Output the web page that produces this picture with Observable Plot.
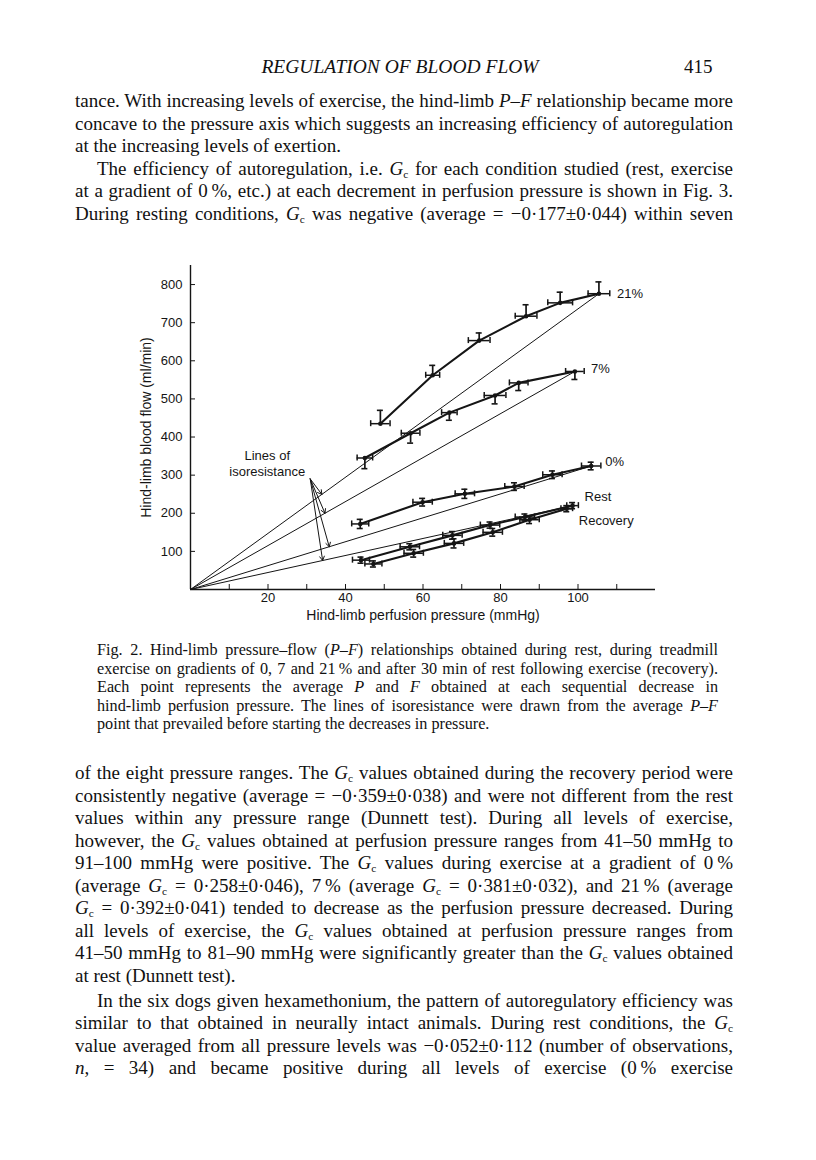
<!DOCTYPE html>
<html><head><meta charset="utf-8">
<script src="https://cdn.jsdelivr.net/npm/d3@7"></script>
<script src="https://cdn.jsdelivr.net/npm/@observablehq/plot@0.6"></script>
<style>
html,body{margin:0;padding:0;background:#fff;}
#page{position:relative;width:816px;height:1160px;overflow:hidden;background:#fff;color:#111;}
.ln{position:absolute;white-space:nowrap;font-family:"Liberation Serif","Times New Roman",serif;line-height:24px;}
.body{font-size:19px;}
.cap{font-size:16.2px;line-height:20px;}
.j{text-align:justify;text-align-last:justify;}
sub{font-size:0.6em;vertical-align:-0.3em;line-height:0;font-style:normal;}
#chart{position:absolute;left:0;top:250px;}
</style></head><body><div id="page"><div id="chart"></div></div>
<script>
// ---------- chart data ----------
const xTicks = [10, 20, 30, 40, 50, 60, 70, 80, 90, 100, 110];
const xTickLabels = [20, 40, 60, 80, 100];
const yTicks = [100, 200, 300, 400, 500, 600, 700, 800];

const seriesNames = ["21%", "7%", "0%", "Rest", "Recovery"];

const pressure21 = [49.0, 62.5, 74.5, 86.6, 95.4, 105.4];
const flow21     = [435, 562, 653, 717, 752, 776];
const pErr21     = [2.5, 1.8, 2.8, 2.8, 3.2, 2.8];
const fErr21     = [35, 26, 20, 30, 28, 31];

const pressure7 = [45.0, 56.8, 66.8, 78.6, 84.7, 99.2];
const flow7     = [345, 410, 464, 509, 542, 572];
const pErr7     = [2.0, 2.4, 2.0, 2.8, 2.4, 2.4];
const fErr7     = [28, 26, 20, 22, 20, 21];

const pressure0 = [43.8, 59.9, 70.8, 83.6, 93.4, 103.4];
const flow0     = [172, 229, 251, 270, 301, 324];
const pErr0     = [2.2, 2.5, 2.5, 2.5, 2.5, 2.5];
const fErr0     = [12, 10, 12, 10, 10, 10];

const pressureRest = [44.0, 56.6, 67.6, 77.3, 86.3, 98.6];
const flowRest     = [77, 112, 142, 169, 190, 220];
const pErrRest     = [2.2, 2.5, 2.5, 2.5, 2.5, 1.5];
const fErrRest     = [8, 8, 10, 8, 8, 8];

const pressureRecovery = [47.2, 57.6, 68.0, 78.0, 87.5, 97.1];
const flowRecovery     = [67, 95, 121, 150, 183, 212];
const pErrRecovery     = [2.2, 2.5, 2.5, 2.5, 2.5, 1.5];
const fErrRecovery     = [8, 10, 12, 10, 10, 8];

// which side of each point the flow error bar is drawn
const errSide = ["up", "down", "both", "both", "both"];

// isoresistance lines are drawn to the first (highest pressure) point of these series
const isoSeries = ["21%", "7%", "0%", "Rest"];

// annotation: "Lines of isoresistance"
const isoLabelText = "Lines of\nisoresistance";
const isoLabelAt = [19.8, 333];
const arrowStart = [30.9, 290];
const arrowTargetP = [33.9, 34.7, 35.8, 34.1];

const xLabel = "Hind-limb perfusion pressure (mmHg)";
const yLabel = "Hind-limb blood flow (ml/min)";

// ---------- build table ----------
const groups = [
  {name: seriesNames[0], P: pressure21, F: flow21, PE: pErr21, FE: fErr21, side: errSide[0], dx: 18, dy: 0},
  {name: seriesNames[1], P: pressure7, F: flow7, PE: pErr7, FE: fErr7, side: errSide[1], dx: 16, dy: -3},
  {name: seriesNames[2], P: pressure0, F: flow0, PE: pErr0, FE: fErr0, side: errSide[2], dx: 14, dy: -4},
  {name: seriesNames[3], P: pressureRest, F: flowRest, PE: pErrRest, FE: fErrRest, side: errSide[3], dx: 12, dy: -9},
  {name: seriesNames[4], P: pressureRecovery, F: flowRecovery, PE: pErrRecovery, FE: fErrRecovery, side: errSide[4], dx: 12, dy: 12}
];
const rows = groups.flatMap(g => g.P.map((p, i) => ({
  series: g.name, p, f: g.F[i], pe: g.PE[i], fe: g.FE[i],
  lo: g.side === "up" ? g.F[i] : g.F[i] - g.FE[i],
  hi: g.side === "down" ? g.F[i] : g.F[i] + g.FE[i]
})));
const lastOf = g => ({series: g.name, p: g.P[g.P.length - 1], f: g.F[g.F.length - 1]});
const isoRows = groups.filter(g => isoSeries.includes(g.name)).map(lastOf);
const arrowRows = isoRows.map((r, i) => ({
  x1: arrowStart[0], y1: arrowStart[1],
  x2: arrowTargetP[i], y2: arrowTargetP[i] * r.f / r.p
}));

const font = "'Liberation Sans', Arial, Helvetica, sans-serif";
const ink = "#151515";

const marks = [
  Plot.ruleX([0], {stroke: ink, strokeWidth: 1.4}),
  Plot.ruleY([0], {stroke: ink, strokeWidth: 1.4}),
  Plot.axisY(yTicks, {tickSize: -5, tickPadding: 13, fontSize: 13, label: null, stroke: ink, color: ink}),
  Plot.axisX(xTicks, {tickSize: -5, tickPadding: 8, fontSize: 13, label: null, stroke: ink, color: ink,
    tickFormat: d => xTickLabels.includes(d) ? String(d) : ""}),
  Plot.text([yLabel], {frameAnchor: "left", text: d => d, rotate: -90, textAnchor: "middle", dx: -44, fontSize: 14, fill: ink}),
  Plot.text([xLabel], {frameAnchor: "bottom", text: d => d, textAnchor: "middle", dx: 0, dy: 30, fontSize: 14, fill: ink}),
  Plot.link(isoRows, {x1: () => 0, y1: () => 0, x2: "p", y2: "f", stroke: ink, strokeWidth: 1}),
  Plot.line(rows, {x: "p", y: "f", z: "series", stroke: ink, strokeWidth: 2.1}),
  Plot.ruleX(rows, {x: "p", y1: "lo", y2: "hi", stroke: ink, strokeWidth: 1.7}),
  Plot.ruleY(rows.filter(r => r.hi > r.f), {y: "hi", x1: "p", x2: "p", insetLeft: -3, insetRight: -3, stroke: ink, strokeWidth: 1.6}),
  Plot.ruleY(rows.filter(r => r.lo < r.f), {y: "lo", x1: "p", x2: "p", insetLeft: -3, insetRight: -3, stroke: ink, strokeWidth: 1.6}),
  Plot.ruleY(rows, {y: "f", x1: d => d.p - d.pe, x2: d => d.p + d.pe, stroke: ink, strokeWidth: 1.5}),
  Plot.ruleX(rows, {x: d => d.p - d.pe, y1: "f", y2: "f", insetTop: -3, insetBottom: -3, stroke: ink, strokeWidth: 1.5}),
  Plot.ruleX(rows, {x: d => d.p + d.pe, y1: "f", y2: "f", insetTop: -3, insetBottom: -3, stroke: ink, strokeWidth: 1.5}),
  Plot.dot(rows, {x: "p", y: "f", r: 2.3, fill: ink, stroke: null}),
  ...groups.map(g => Plot.text([lastOf(g)], {x: "p", y: "f", text: "series", dx: g.dx, dy: g.dy, textAnchor: "start", fontSize: 13, fill: ink})),
  Plot.text([isoLabelText], {x: () => isoLabelAt[0], y: () => isoLabelAt[1], text: d => d, lineHeight: 1.3, textAnchor: "middle", fontSize: 13, fill: ink}),
  Plot.arrow(arrowRows, {x1: "x1", y1: "y1", x2: "x2", y2: "y2", stroke: ink, strokeWidth: 1, headLength: 7})
];

const chart = Plot.plot({
  width: 816, height: 380,
  marginLeft: 190, marginRight: 161, marginTop: 15, marginBottom: 41,
  x: {domain: [0, 120]},
  y: {domain: [0, 850]},
  style: {fontFamily: font, fontSize: "13px", background: "white", color: ink},
  marks
});
document.getElementById("chart").appendChild(chart);

// ---------- page text ----------
const G = '<i>G</i><sub>c</sub>';
const T = '\u2009';
const pageLines = [
  // [html, centerY, left, right, cls, justify]
  ['tance. With increasing levels of exercise, the hind-limb <i>P–F</i> relationship became more', 101, 75, 733, 'body', true],
  ['concave to the pressure axis which suggests an increasing efficiency of autoregulation', 123.5, 75, 733, 'body', true],
  ['at the increasing levels of exertion.', 146, 75, 733, 'body', false],
  ['The efficiency of autoregulation, i.e. ' + G + ' for each condition studied (rest, exercise', 168.5, 97, 733, 'body', true],
  ['at a gradient of 0' + T + '%, etc.) at each decrement in perfusion pressure is shown in Fig. 3.', 191, 75, 733, 'body', true],
  ['During resting conditions, ' + G + ' was negative (average = −0·177±0·044) within seven', 213.5, 75, 733, 'body', true],

  ['Fig. 2. Hind-limb pressure–flow (<i>P–F</i>) relationships obtained during rest, during treadmill', 650, 97, 718, 'cap', true],
  ['exercise on gradients of 0, 7 and 21' + T + '% and after 30 min of rest following exercise (recovery).', 668.5, 97, 718, 'cap', true],
  ['Each point represents the average <i>P</i> and <i>F</i> obtained at each sequential decrease in', 687, 97, 718, 'cap', true],
  ['hind-limb perfusion pressure. The lines of isoresistance were drawn from the average <i>P–F</i>', 705.5, 97, 718, 'cap', true],
  ['point that prevailed before starting the decreases in pressure.', 724, 97, 718, 'cap', false],

  ['of the eight pressure ranges. The ' + G + ' values obtained during the recovery period were', 773, 75, 733, 'body', true],
  ['consistently negative (average = −0·359±0·038) and were not different from the rest', 795.5, 75, 733, 'body', true],
  ['values within any pressure range (Dunnett test). During all levels of exercise,', 818, 75, 733, 'body', true],
  ['however, the ' + G + ' values obtained at perfusion pressure ranges from 41–50 mmHg to', 840.5, 75, 733, 'body', true],
  ['91–100 mmHg were positive. The ' + G + ' values during exercise at a gradient of 0' + T + '%', 863, 75, 733, 'body', true],
  ['(average ' + G + ' = 0·258±0·046), 7' + T + '% (average ' + G + ' = 0·381±0·032), and 21' + T + '% (average', 885.5, 75, 733, 'body', true],
  [G + ' = 0·392±0·041) tended to decrease as the perfusion pressure decreased. During', 908, 75, 733, 'body', true],
  ['all levels of exercise, the ' + G + ' values obtained at perfusion pressure ranges from', 930.5, 75, 733, 'body', true],
  ['41–50 mmHg to 81–90 mmHg were significantly greater than the ' + G + ' values obtained', 953, 75, 733, 'body', true],
  ['at rest (Dunnett test).', 975.5, 75, 733, 'body', false],
  ['In the six dogs given hexamethonium, the pattern of autoregulatory efficiency was', 1000.5, 97, 733, 'body', true],
  ['similar to that obtained in neurally intact animals. During rest conditions, the ' + G, 1023, 75, 733, 'body', true],
  ['value averaged from all pressure levels was −0·052±0·112 (number of observations,', 1045.5, 75, 733, 'body', true],
  ['<i>n</i>, = 34) and became positive during all levels of exercise (0' + T + '% exercise', 1068, 75, 733, 'body', true]
];

const page = document.getElementById("page");
function addLine(html, cy, left, right, cls, justify, lh) {
  const div = document.createElement("div");
  div.className = "ln " + cls;
  div.style.left = left + "px";
  div.style.width = (right - left) + "px";
  div.style.top = (cy - lh / 2) + "px";
  const span = document.createElement("span");
  span.innerHTML = html;
  div.appendChild(span);
  page.appendChild(div);
  const w = span.getBoundingClientRect().width;
  const W = right - left;
  if (w > W) {
    const n = span.textContent.length;
    span.style.letterSpacing = ((W - w) / n) + "px";
  }
  if (justify) div.classList.add("j");
}
pageLines.forEach(([h, cy, l, r, c, j]) => addLine(h, cy, l, r, c, j, c === 'cap' ? 20 : 24));

// running head
const head = document.createElement("div");
head.className = "ln body";
head.style.cssText = "left:200px;width:400px;top:55px;font-style:italic;text-align:center;font-size:19.5px;";
head.textContent = "REGULATION OF BLOOD FLOW";
page.appendChild(head);
const num = document.createElement("div");
num.className = "ln body";
num.style.cssText = "left:684px;top:55px;";
num.textContent = "415";
page.appendChild(num);
</script></body></html>
